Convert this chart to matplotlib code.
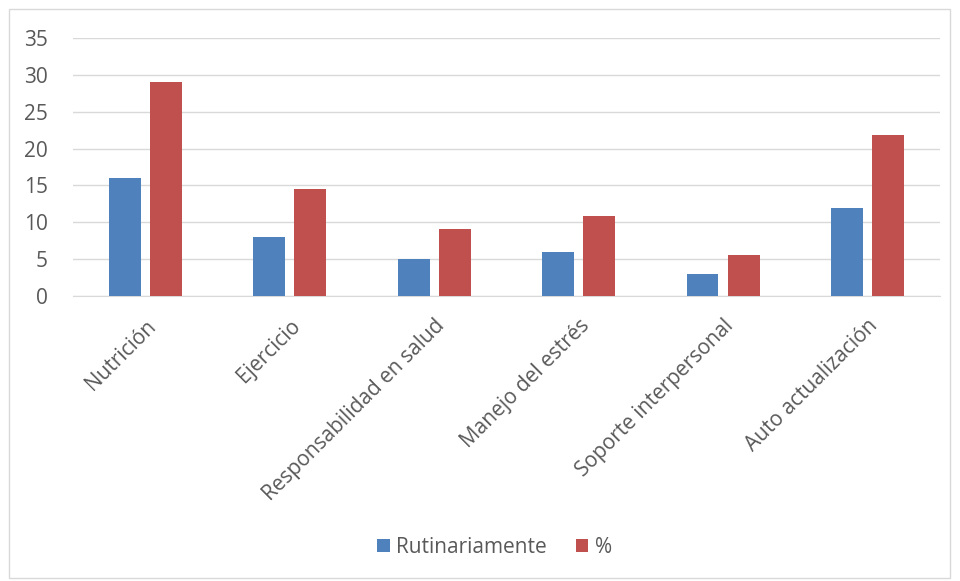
import matplotlib
matplotlib.use('Agg')
import matplotlib.pyplot as plt
import numpy as np
from matplotlib.patches import Rectangle

categories = ['Nutrición', 'Ejercicio', 'Responsabilidad en salud',
              'Manejo del estrés', 'Soporte interpersonal', 'Auto actualización']
rutinariamente = [16, 8, 5, 6, 3, 12]
porcentaje = [29.1, 14.5, 9.1, 10.9, 5.5, 21.8]
series_names = ['Rutinariamente', '%']
yticks = [0, 5, 10, 15, 20, 25, 30, 35]

plt.rcParams['font.family'] = ['Open Sans', 'DejaVu Sans']
txt = '#595959'
fs = 15

fig = plt.figure(figsize=(9.6, 5.81), dpi=100)
ax = fig.add_axes([0.076, 0.4905, 0.903, 0.444])

x = np.arange(len(categories))
w = 0.22
off = 0.142
b1 = ax.bar(x - off, rutinariamente, w, color='#4F81BD', label=series_names[0], zorder=3)
b2 = ax.bar(x + off, porcentaje, w, color='#C0504D', label=series_names[1], zorder=3)

ax.set_xlim(-0.5, len(categories) - 0.5)
ax.set_ylim(0, 35)
ax.set_yticks(yticks)
ax.yaxis.grid(True, color='#d9d9d9', linewidth=1, zorder=0)
for s in ['top', 'right', 'left']:
    ax.spines[s].set_visible(False)
ax.spines['bottom'].set_color('#d9d9d9')
ax.tick_params(axis='both', length=0, colors=txt, labelsize=fs)
ax.tick_params(axis='y', pad=18)

ax.set_xticks(x)
ax.set_xticklabels(categories, rotation=45, ha='right', va='top',
                   rotation_mode='anchor', color=txt, fontsize=fs)
ax.tick_params(axis='x', pad=14)

fig.legend(handles=[b1, b2], labels=series_names, loc='center',
           bbox_to_anchor=(0.515, 0.058), ncol=2, frameon=False,
           fontsize=fs, labelcolor=txt, handlelength=0.6, handleheight=0.6,
           handletextpad=0.3, columnspacing=1.4)

fig.patches.append(Rectangle((0.009, 0.005), 0.981, 0.98, transform=fig.transFigure,
                             fill=False, edgecolor='#d9d9d9', linewidth=1))

fig.savefig('out.png', dpi=100)
